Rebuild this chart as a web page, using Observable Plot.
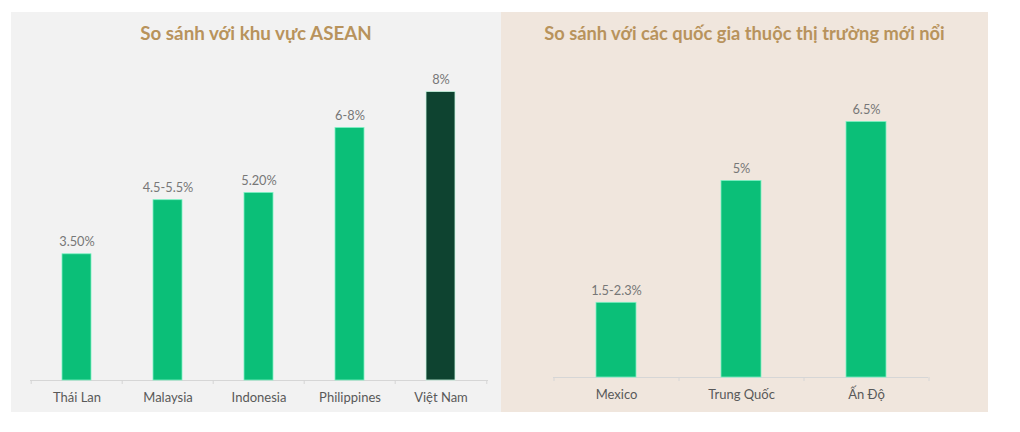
<!DOCTYPE html>
<html>
<head>
<meta charset="utf-8">
<script src="https://cdn.jsdelivr.net/npm/d3@7"></script>
<script src="https://cdn.jsdelivr.net/npm/@observablehq/plot@0.6"></script>
<style>
  html, body { margin: 0; padding: 0; background: #ffffff; }
  body { width: 1020px; height: 432px; position: relative; overflow: hidden; font-family: Lato, "Open Sans", sans-serif; }
  .panel { position: absolute; top: 12px; height: 400px; }
  .title { position: absolute; left: 0; right: 0; top: 0; height: 42px; line-height: 42px; text-align: center;
           font-family: Lato, sans-serif; font-weight: 700; color: #b8935c; white-space: nowrap; }
  .chart { position: absolute; left: 0; top: 38px; }
</style>
</head>
<body>
<div class="panel" id="left" style="left:11px;width:490px;background:#f2f2f2;">
  <div class="title" id="leftTitle" style="font-size:18.8px;"></div>
  <div class="chart" id="leftChart"></div>
</div>
<div class="panel" id="right" style="left:501px;width:487px;background:#f0e6dd;">
  <div class="title" id="rightTitle" style="font-size:18.3px;"></div>
  <div class="chart" id="rightChart"></div>
</div>
<script>
// ---- Data ----
const aseanTitle = "So sánh với khu vực ASEAN";
const aseanCountries = ["Thái Lan", "Malaysia", "Indonesia", "Philippines", "Việt Nam"];
const aseanValues = [3.5, 5.0, 5.2, 7.0, 8.0];
const aseanLabels = ["3.50%", "4.5-5.5%", "5.20%", "6-8%", "8%"];
const aseanHighlight = [false, false, false, false, true];

const emTitle = "So sánh với các quốc gia thuộc thị trường mới nổi";
const emCountries = ["Mexico", "Trung Quốc", "Ấn Độ"];
const emValues = [1.9, 5.0, 6.5];
const emLabels = ["1.5-2.3%", "5%", "6.5%"];

// ---- Styles ----
const green = "#0bbf78";
const darkGreen = "#0e4330";
const valueColor = "#777777";
const catColor = "#595959";
const axisColor = "#d6d6d6";

function barChart({countries, values, labels, highlight, width, height, marginLeft, marginRight, marginTop, marginBottom, yMax}) {
  const data = countries.map((c, i) => ({country: c, value: values[i], label: labels[i], hi: highlight ? highlight[i] : false}));
  const step = (width - marginLeft - marginRight) / countries.length;
  return Plot.plot({
    width, height, marginLeft, marginRight, marginTop, marginBottom,
    style: {background: "transparent", fontFamily: "Lato, sans-serif"},
    x: {domain: countries, paddingInner: 0.68, paddingOuter: 0.34, label: null},
    y: {domain: [0, yMax], axis: null},
    marks: [
      Plot.ruleY([0], {stroke: axisColor, strokeWidth: 1}),
      Plot.ruleX(countries, {x: d => d, y1: 0, y2: 0, dx: -step / 2, insetBottom: -4, stroke: axisColor}),
      Plot.ruleX([countries[countries.length - 1]], {x: d => d, y1: 0, y2: 0, dx: step / 2, insetBottom: -4, stroke: axisColor}),
      Plot.barY(data, {x: "country", y: "value", fill: d => d.hi ? darkGreen : green, stroke: d => d.hi ? "#c8f5e0" : "#7df2c4", strokeWidth: 0.8}),
      Plot.text(data, {x: "country", y: "value", text: "label", lineAnchor: "bottom", dy: -8, fill: valueColor, fontSize: 12.8}),
      Plot.axisX({tickSize: 0, tickPadding: 12, fontSize: 13, color: catColor, label: null})
    ]
  });
}

document.getElementById("leftTitle").textContent = aseanTitle;
document.getElementById("rightTitle").textContent = emTitle;

document.getElementById("leftChart").appendChild(barChart({
  countries: aseanCountries, values: aseanValues, labels: aseanLabels, highlight: aseanHighlight,
  width: 490, height: 362, marginLeft: 19, marginRight: 13, marginTop: 41.5, marginBottom: 32, yMax: 8
}));

document.getElementById("rightChart").appendChild(barChart({
  countries: emCountries, values: emValues, labels: emLabels, highlight: null,
  width: 487, height: 362, marginLeft: 52, marginRight: 60, marginTop: 71.5, marginBottom: 35, yMax: 6.5
}));
</script>
</body>
</html>
